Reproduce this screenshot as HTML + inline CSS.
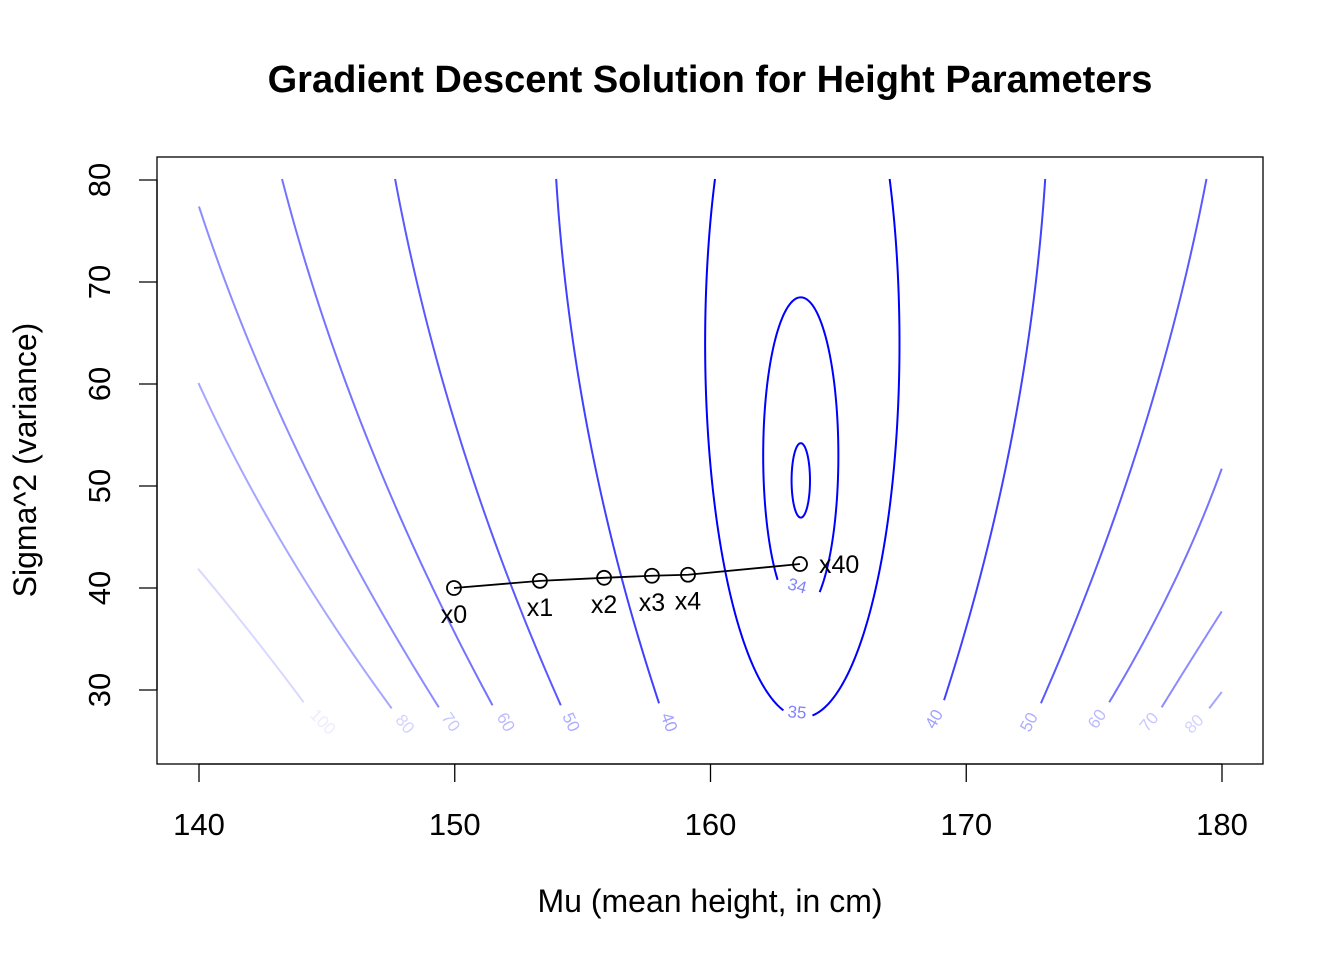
<!DOCTYPE html>
<html><head><meta charset="utf-8"><style>
body{margin:0;background:#fff}
svg{display:block;font-family:"Liberation Sans",Arial,sans-serif}
</style></head><body>
<svg id="chart" width="1344" height="960" viewBox="0 0 1344 960">
<text x="710" y="92" text-anchor="middle" font-size="38" font-weight="bold">Gradient Descent Solution for Height Parameters</text>
<rect x="157" y="157" width="1106" height="607" fill="none" stroke="#000" stroke-width="1.3"/>
<text x="710" y="912" text-anchor="middle" font-size="32">Mu (mean height, in cm)</text>
<text transform="translate(36,460) rotate(-90)" text-anchor="middle" font-size="32">Sigma^2 (variance)</text>
<g id="axes"></g><g id="contours"></g><g id="path"></g>
</svg>
<script>
const xTicks=[140,150,160,170,180];
const yTicks=[30,40,50,60,70,80];
// open contour curves (mu, sigma^2)
const levels=[100,80,70,60,50,40,40,50,60,70,80];
const alphas=[0.15,0.35,0.45,0.55,0.65,0.75,0.75,0.65,0.55,0.45,0.35];
const curveMu=[
 [139.96,142.01,144.09],
 [139.96,141.68,142.33,144.74,147.55],
 [139.96,140.97,142.73,144.20,144.68,146.89,149.41],
 [143.21,144.18,145.68,147.07,147.35,149.42,151.51],
 [147.64,148.22,149.37,150.09,150.60,152.16,154.18],
 [153.92,154.12,154.71,155.52,156.46,158.03],
 [173.12,172.95,172.34,171.55,170.54,169.08],
 [179.43,178.82,177.64,176.50,174.77,172.88],
 [179.99,177.84,175.59],
 [179.99,178.88,177.64],
 [179.99,179.50]
];
const curveS2=[
 [41.9,35.6,28.8],
 [60.1,51.6,48.5,38.2,28.2],
 [77.4,70.7,59.7,51.6,49.0,38.5,28.3],
 [80.1,72.1,60.8,51.6,49.8,38.3,28.5],
 [80.1,73.5,62.0,55.5,51.6,40.1,28.5],
 [80.1,75.8,63.6,51.6,40.8,28.7],
 [80.1,75.9,63.8,52.1,40.1,29.0],
 [80.1,73.5,62.0,52.0,39.5,28.7],
 [51.7,39.1,28.8],
 [37.7,33.3,28.3],
 [29.8,28.2]
];
// closed / near-elliptical contours around the minimum (levels 35, 34, inner)
const ringLevels=[35,34,33.9];
const ringCenterMu=[163.59,163.53,163.53];
const ringCenterS2=[64,53,50.55];
const ringHalfMu=[3.8,1.47,0.36];
const ringHalfS2=[36.7,15.5,3.65];
// visible arcs: [start sigma^2 on left side, end sigma^2 on right side]; null = closed ring
const ringLeftEnd=[28.0,40.8,null];
const ringRightEnd=[27.5,39.6,null];
const ringTopCut=[80.1,null,null];

const labelText=["100","80","70","60","50","40","40","50","60","70","80","35","34"];
const labelMu=[144.81,148.02,149.81,151.96,154.51,158.34,168.78,172.49,175.15,177.18,178.94,163.38,163.38];
const labelS2=[26.8,26.6,26.8,26.8,26.8,26.8,27.1,26.8,27.1,26.8,26.6,27.7,40.1];
const labelRot=[45,50,55,60,65,70,-60,-62,-55,-50,-45,5,15];
const labelAlpha=[0.15,0.35,0.45,0.55,0.65,0.75,0.75,0.65,0.55,0.45,0.35,1,1];
const stepMu=[149.97,153.33,155.84,157.71,159.12,163.5];
const stepS2=[40.0,40.7,41.0,41.2,41.3,42.35];
const stepLabels=["x0","x1","x2","x3","x4","x40"];

const NS="http://www.w3.org/2000/svg";
const X=v=>199+(v-140)*25.575;
const Y=v=>180+(80-v)*10.2;
function mk(tag,attrs,parent){const e=document.createElementNS(NS,tag);for(const k in attrs)e.setAttribute(k,attrs[k]);parent.appendChild(e);return e;}
const axes=document.getElementById('axes');
mk('line',{x1:X(xTicks[0]),x2:X(xTicks[xTicks.length-1]),y1:764,y2:764,stroke:'#000','stroke-width':1.3},axes);
xTicks.forEach(t=>{
 const l=mk('line',{x1:X(t),x2:X(t),y1:764,y2:782,stroke:'#000','stroke-width':1.3},axes);
 
 
 const tx=mk('text',{x:X(t),y:835,'text-anchor':'middle','font-size':31},axes);tx.textContent=t;
 
 
});
mk('line',{x1:157,x2:157,y1:Y(yTicks[0]),y2:Y(yTicks[yTicks.length-1]),stroke:'#000','stroke-width':1.3},axes);
yTicks.forEach(t=>{
 const l=mk('line',{x1:139,x2:157,y1:Y(t),y2:Y(t),stroke:'#000','stroke-width':1.3},axes);
 
 
 const tx=mk('text',{transform:`translate(110,${Y(t)}) rotate(-90)`,'text-anchor':'middle','font-size':31},axes);tx.textContent=t;
 
 
});
function quadFit(mus,s2s){
 const n=mus.length;
 let S=[0,0,0,0,0],T=[0,0,0];
 for(let i=0;i<n;i++){const s=s2s[i];let p=1;for(let k=0;k<5;k++){S[k]+=p;if(k<3)T[k]+=p*mus[i];p*=s;}}
 const M=[[S[0],S[1],S[2],T[0]],[S[1],S[2],S[3],T[1]],[S[2],S[3],S[4],T[2]]];
 for(let i=0;i<3;i++){for(let j=i+1;j<3;j++){const f=M[j][i]/M[i][i];for(let k=i;k<4;k++)M[j][k]-=f*M[i][k];}}
 const c=[0,0,0];for(let i=2;i>=0;i--){let v=M[i][3];for(let k=i+1;k<3;k++)v-=M[i][k]*c[k];c[i]=v/M[i][i];}
 return c;
}
const toD=pts=>'M'+pts.map(q=>q[0].toFixed(2)+','+q[1].toFixed(2)).join('L');
const cg=document.getElementById('contours');
levels.forEach((lv,i)=>{
 let pts=[];
 if(curveMu[i].length>=3){
  const c=quadFit(curveMu[i],curveS2[i]);
  const s0=curveS2[i][0],s1=curveS2[i][curveS2[i].length-1];
  for(let k=0;k<=60;k++){const s=s0+(s1-s0)*k/60;pts.push([X(c[0]+c[1]*s+c[2]*s*s),Y(s)]);}
 } else pts=curveMu[i].map((m,j)=>[X(m),Y(curveS2[i][j])]);
 const p=mk('path',{d:toD(pts),fill:'none',stroke:'rgb(0,0,255)','stroke-opacity':alphas[i],'stroke-width':2},cg);
 
 
});
const clampAcos=v=>Math.acos(Math.max(-1,Math.min(1,v)));
ringLevels.forEach((lv,i)=>{
 const cx=ringCenterMu[i],cy=ringCenterS2[i],a=ringHalfMu[i],b=ringHalfS2[i];
 const pt=th=>[X(cx+a*Math.sin(th)),Y(cy+b*Math.cos(th))];
 const arcs=[];
 if(ringLeftEnd[i]===null){arcs.push([0,2*Math.PI]);}
 else{
  const thL=-clampAcos((ringLeftEnd[i]-cy)/b),thR=clampAcos((ringRightEnd[i]-cy)/b);
  if(ringTopCut[i]!==null){const thT=clampAcos((ringTopCut[i]-cy)/b);arcs.push([-thT,thL]);arcs.push([thR,thT]);}
  else arcs.push([thL,thR]);
 }
 arcs.forEach(([t0,t1])=>{
  const pts=[];for(let k=0;k<=120;k++)pts.push(pt(t0+(t1-t0)*k/120));
  const p=mk('path',{d:toD(pts),fill:'none',stroke:'rgb(0,0,255)','stroke-width':2},cg);
  
  
 });
});
labelText.forEach((txt,i)=>{
 const t=mk('text',{transform:`translate(${X(labelMu[i])},${Y(labelS2[i])}) rotate(${labelRot[i]})`,'text-anchor':'middle','dominant-baseline':'middle','font-size':17,fill:'rgb(0,0,255)','fill-opacity':labelAlpha[i]*0.5},cg);
 t.textContent=txt;
 
 
});
const pg=document.getElementById('path');
const pl=mk('polyline',{points:stepMu.map((m,i)=>X(m)+','+Y(stepS2[i])).join(' '),fill:'none',stroke:'#000','stroke-width':1.8},pg);


stepMu.forEach((m,i)=>{
 const c=mk('circle',{cx:X(m),cy:Y(stepS2[i]),r:7,fill:'none',stroke:'#000','stroke-width':1.8},pg);
 
 
 const last=i===stepMu.length-1;
 const t=mk('text',{x:last?X(m)+19:X(m),y:last?Y(stepS2[i])+9:Y(stepS2[i])+35,'text-anchor':last?'start':'middle','font-size':25},pg);
 t.textContent=stepLabels[i];
 
 
});
</script>
</body></html>
